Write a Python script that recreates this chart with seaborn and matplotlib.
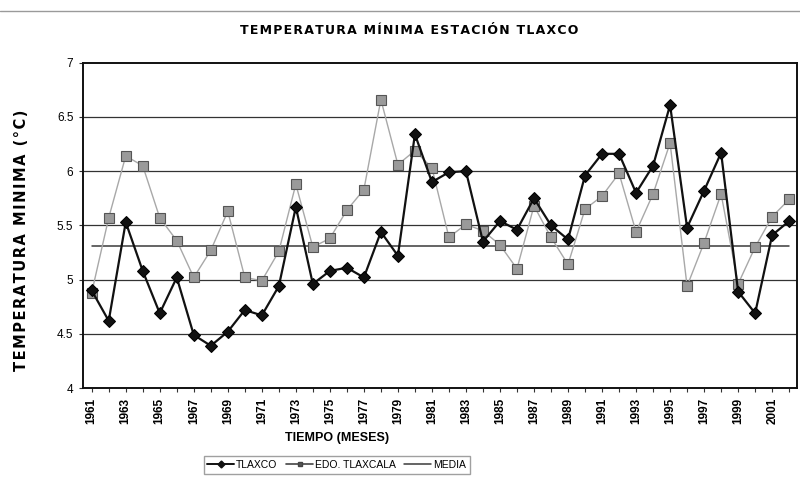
import numpy as np
import pandas as pd
import matplotlib
matplotlib.use("Agg")
import matplotlib.pyplot as plt
import seaborn as sns

# Annual mean minimum temperature (°C)
years = list(range(1961, 2003))
tlaxco = [4.90, 4.62, 5.53, 5.08, 4.69, 5.02, 4.49, 4.39, 4.52, 4.72,
          4.67, 4.94, 5.67, 4.96, 5.08, 5.11, 5.02, 5.44, 5.22, 6.34,
          5.90, 5.99, 6.00, 5.35, 5.54, 5.46, 5.75, 5.50, 5.37, 5.96,
          6.16, 6.16, 5.80, 6.05, 6.61, 5.48, 5.82, 6.17, 4.89, 4.69,
          5.41, 5.54]
edo_tlaxcala = [4.88, 5.57, 6.14, 6.05, 5.57, 5.36, 5.02, 5.27, 5.63, 5.02,
                4.99, 5.26, 5.88, 5.30, 5.38, 5.64, 5.83, 6.66, 6.06, 6.19,
                6.03, 5.39, 5.51, 5.45, 5.32, 5.10, 5.68, 5.39, 5.14, 5.65,
                5.77, 5.98, 5.44, 5.79, 6.26, 4.94, 5.34, 5.79, 4.96, 5.30,
                5.58, 5.74]
media = 5.31
series_names = ["TLAXCO", "EDO. TLAXCALA", "MEDIA"]
year_labels = [str(y) for y in range(1961, 2002, 2)]
y_ticks = [4, 4.5, 5, 5.5, 6, 6.5, 7]
y_tick_labels = ["4", "4.5", "5", "5.5", "6", "6.5", "7"]

df = pd.DataFrame({
    "year": years * 3,
    "value": tlaxco + edo_tlaxcala + [media] * len(years),
    "serie": [series_names[0]] * len(years) + [series_names[1]] * len(years)
             + [series_names[2]] * len(years),
})


def spaced(text, gap="\u200a"):
    """Spread letters apart with hair spaces."""
    return gap.join(text)


sns.set_theme(style="white")
plt.rcParams["font.family"] = ["Liberation Sans", "DejaVu Sans"]
plt.rcParams["text.color"] = "black"
plt.rcParams["xtick.color"] = "black"
plt.rcParams["ytick.color"] = "black"

fig = plt.figure(figsize=(8, 4.9), dpi=100)
ax = fig.add_axes([0.104, 0.208, 0.892, 0.664])

# Horizontal grid
for v in y_ticks[1:-1]:
    ax.axhline(v, color="#333333", lw=0.9, zorder=0)

palette = {"TLAXCO": "#111111", "EDO. TLAXCALA": "#a8a8a8", "MEDIA": "#3a3a3a"}
sns.lineplot(data=df[df.serie == "MEDIA"], x="year", y="value", color=palette["MEDIA"],
             lw=1.1, ax=ax, legend=False, zorder=1)
sns.lineplot(data=df[df.serie == "EDO. TLAXCALA"], x="year", y="value",
             color=palette["EDO. TLAXCALA"], lw=1.0, marker="s", markersize=6.5,
             markerfacecolor="#9a9a9a", markeredgecolor="#555555", markeredgewidth=0.8,
             ax=ax, legend=False, zorder=2)
sns.lineplot(data=df[df.serie == "TLAXCO"], x="year", y="value", color=palette["TLAXCO"],
             lw=1.6, marker="D", markersize=6.5, markerfacecolor="#111111",
             markeredgecolor="#000000", ax=ax, legend=False, zorder=3)

ax.set_xlim(1960.5, 2002.45)
ax.set_ylim(4, 7)
ax.set_yticks(y_ticks)
ax.set_yticklabels(y_tick_labels, fontsize=8.5)
ax.set_xticks(range(1961, 2002, 2))
ax.set_xticklabels(year_labels, rotation=90, fontsize=8.5, fontweight="bold")
ax.set_xticks(years, minor=True)
ax.tick_params(axis="x", which="both", direction="out", length=3, width=0.8,
               bottom=True, color="#333333", pad=4)
ax.tick_params(axis="y", direction="out", length=3, width=0.8, left=True,
               color="#333333", pad=4)
for s in ax.spines.values():
    s.set_visible(True)
    s.set_color("#111111")
    s.set_linewidth(1.4)

ax.set_xlabel("")
ax.set_ylabel("")
fig.text(0.0275, 0.51, spaced("TEMPERATURA MINIMA (°C)"), rotation=90, fontsize=10.5,
         fontweight="bold", ha="center", va="center", family=["DejaVu Sans"])
fig.text(0.421, 0.106, "TIEMPO (MESES)", fontsize=9, fontweight="bold",
         ha="center", va="center")
fig.text(0.511, 0.938, spaced("TEMPERATURA MÍNIMA ESTACIÓN TLAXCO"), fontsize=9,
         fontweight="bold", ha="center", va="center",
         family=["DejaVu Sans"])

handles = [
    plt.Line2D([], [], color="#111111", lw=1.4, marker="D", markersize=3.5),
    plt.Line2D([], [], color="#444444", lw=1.2, marker="s", markersize=3.5,
               markerfacecolor="#555555"),
    plt.Line2D([], [], color="#3a3a3a", lw=1.1),
]
leg = fig.legend(handles, series_names, loc="center", bbox_to_anchor=(0.421, 0.051),
                 ncol=3, fontsize=7.5, frameon=True, fancybox=False, handlelength=2.6,
                 handletextpad=0.2, columnspacing=0.8, borderpad=0.35)
leg.get_frame().set_edgecolor("#888888")
leg.get_frame().set_linewidth(1.0)

# Outer chart border
fig.add_artist(plt.Line2D([0, 1], [0.978, 0.978], color="#9a9a9a", lw=1.0,
                          transform=fig.transFigure))

fig.savefig("out.png", dpi=100, facecolor="white")
